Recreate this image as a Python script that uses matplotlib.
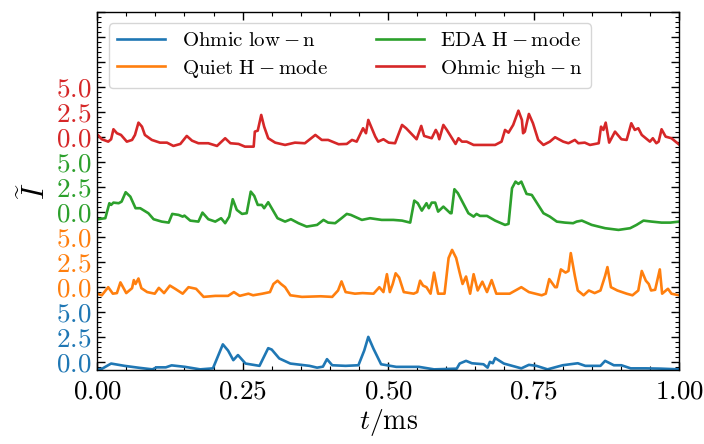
import numpy as np
import matplotlib
matplotlib.use("Agg")
import matplotlib.pyplot as plt
from matplotlib.ticker import MultipleLocator, FixedLocator, FixedFormatter

plt.rcParams['mathtext.fontset'] = 'cm'
plt.rcParams['font.family'] = 'serif'
plt.rcParams['font.serif'] = ['cmr10', 'DejaVu Serif']
plt.rcParams['axes.formatter.use_mathtext'] = True

labels = [r'$\mathrm{Ohmic\ low-n}$', r'$\mathrm{Quiet\ H-mode}$',
          r'$\mathrm{EDA\ H-mode}$', r'$\mathrm{Ohmic\ high-n}$']
colors = ['#1f77b4', '#ff7f0e', '#2ca02c', '#d62728']
offsets = [0.0, 7.5, 15.0, 22.5]

t_low = [0, 0.008, 0.024, 0.047, 0.073, 0.095, 0.102, 0.118, 0.128, 0.151, 0.177, 0.199,
         0.216, 0.225, 0.234, 0.242, 0.255, 0.279, 0.294, 0.3, 0.313, 0.332, 0.365, 0.378,
         0.388, 0.395, 0.404, 0.427, 0.449, 0.459, 0.466, 0.475, 0.488, 0.514, 0.553, 0.579,
         0.618, 0.623, 0.634, 0.644, 0.664, 0.671, 0.675, 0.68, 0.684, 0.699, 0.729, 0.742,
         0.755, 0.774, 0.8, 0.826, 0.839, 0.865, 0.873, 0.888, 0.901, 0.917, 0.943, 0.969, 1.0]
v_low = [-0.75, -0.7, -0.17, -0.4, -0.6, -0.75, -0.55, -0.55, -0.35, -0.5, -0.75, -0.65,
         1.75, 1.13, 0.17, 0.68, -0.17, -0.4, 1.37, 1.23, 0.34, -0.17, -0.4, -0.58,
         -0.48, 0.27, -0.34, -0.4, -0.34, 1.13, 2.5, 1.3, -0.24, -0.5, -0.5, -0.75,
         -0.68, -0.17, 0.1, -0.14, -0.24, -0.58, 0.0, -0.14, 0.38, -0.17, -0.65, -0.3,
         -0.4, -0.75, -0.34, -0.14, -0.4, -0.4, 0.1, -0.34, -0.34, -0.65, -0.65, -0.68, -0.75]

t_quiet = [0, 0.008, 0.019, 0.027, 0.034, 0.040, 0.050, 0.060, 0.063, 0.066, 0.071, 0.076,
           0.086, 0.099, 0.106, 0.115, 0.125, 0.134, 0.147, 0.157, 0.170, 0.183, 0.203, 0.216,
           0.225, 0.235, 0.245, 0.260, 0.268, 0.284, 0.297, 0.303, 0.310, 0.316, 0.323, 0.332,
           0.352, 0.384, 0.404, 0.414, 0.420, 0.427, 0.443, 0.456, 0.475, 0.485, 0.492, 0.498,
           0.503, 0.508, 0.513, 0.519, 0.527, 0.544, 0.550, 0.555, 0.560, 0.566, 0.573, 0.579,
           0.586, 0.597, 0.604, 0.610, 0.617, 0.623, 0.628, 0.634, 0.641, 0.647, 0.654, 0.662,
           0.670, 0.678, 0.686, 0.709, 0.729, 0.742, 0.764, 0.771, 0.777, 0.787, 0.790, 0.797,
           0.805, 0.810, 0.814, 0.821, 0.826, 0.836, 0.845, 0.855, 0.865, 0.873, 0.877, 0.883,
           0.894, 0.910, 0.920, 0.930, 0.936, 0.943, 0.948, 0.952, 0.959, 0.967, 0.971, 0.981,
           0.987, 1.0]
v_quiet = [-0.68, -0.84, -0.03, -0.68, -0.62, 0.45, -0.62, -0.13, 0.68, 0.29, 0.84, -0.13,
           -0.52, -0.68, -0.1, -0.62, 0.13, -0.19, -0.68, -0.03, -0.19, -1.0, -0.9, -0.9,
           -0.9, -0.52, -0.9, -0.68, -0.84, -0.68, -0.52, 0.29, 0.62, 0.29, -0.03, -0.84,
           -1.0, -0.94, -1.0, -0.36, 0.55, -0.52, -0.68, -0.62, -0.68, -0.03, -0.52, 1.27,
           -0.52, 0.29, 1.36, 0.94, -0.52, -0.68, -0.52, 0.62, 0.13, -0.03, -0.68, 1.43,
           -0.68, -0.68, 2.89, 3.7, 2.89, 1.43, 0.29, 1.04, -0.68, 1.27, -0.36, 0.52,
           -0.52, 0.68, -0.68, -0.68, -0.03, -0.52, -0.84, -0.68, 0.78, -0.03, -0.03, 1.75,
           1.43, 1.59, 3.38, 1.1, -0.36, -0.84, -0.36, -0.62, -0.36, 1.1, 1.98, -0.03,
           -0.36, -0.68, -0.84, -0.36, 1.59, 0.62, 0.29, -0.36, -0.29, 1.75, -0.68, -0.19,
           -0.68, -0.84]

t_eda = [0.001, 0.014, 0.021, 0.024, 0.028, 0.037, 0.042, 0.049, 0.057, 0.066, 0.074, 0.088,
         0.097, 0.111, 0.123, 0.129, 0.140, 0.147, 0.150, 0.160, 0.174, 0.181, 0.191, 0.203,
         0.213, 0.220, 0.227, 0.233, 0.240, 0.249, 0.257, 0.264, 0.270, 0.276, 0.283, 0.287,
         0.294, 0.310, 0.323, 0.333, 0.346, 0.360, 0.378, 0.389, 0.397, 0.409, 0.420, 0.429,
         0.436, 0.455, 0.469, 0.489, 0.509, 0.524, 0.538, 0.545, 0.551, 0.558, 0.566, 0.570,
         0.575, 0.581, 0.586, 0.595, 0.607, 0.609, 0.614, 0.620, 0.629, 0.638, 0.647, 0.652,
         0.658, 0.670, 0.684, 0.701, 0.707, 0.713, 0.719, 0.724, 0.729, 0.738, 0.747, 0.767,
         0.778, 0.790, 0.804, 0.818, 0.824, 0.833, 0.850, 0.873, 0.896, 0.916, 0.927, 0.939,
         0.953, 0.970, 0.985, 1.0]
v_eda = [-0.73, -0.63, 0.87, 0.7, 0.93, 0.87, 1.03, 1.97, 1.53, 0.37, 0.37, -0.13,
         -0.73, -0.97, -1.07, -0.2, -0.3, -0.47, -0.37, -0.87, -0.97, -0.07, -0.73, -0.97,
         -0.63, -1.13, -0.47, 1.27, 0.2, -0.2, -0.13, 2.03, 1.6, 0.7, 0.7, 0.37,
         0.97, -0.63, -0.97, -0.73, -1.13, -1.47, -1.3, -0.8, -1.07, -1.13, -0.63, -0.2,
         -0.3, -0.8, -0.63, -0.8, -0.8, -0.87, -1.07, 1.13, 0.87, 0.13, 0.87, 0.37,
         0.93, 0.93, 0.03, 0.53, -0.13, -0.13, 2.27, 1.87, 0.87, -0.13, -0.47, -0.2,
         -0.4, -0.4, -0.87, -1.3, -1.2, 2.37, 3.03, 2.8, 3.03, 1.8, 1.7, -0.13,
         -0.47, -0.97, -1.07, -1.13, -0.97, -0.87, -1.3, -1.63, -1.8, -1.63, -1.3, -0.87,
         -0.97, -1.07, -1.07, -0.97]

t_high = [0.001, 0.008, 0.019, 0.024, 0.028, 0.034, 0.041, 0.051, 0.060, 0.065, 0.071, 0.077,
          0.082, 0.094, 0.108, 0.120, 0.131, 0.143, 0.154, 0.163, 0.174, 0.191, 0.206, 0.220,
          0.229, 0.243, 0.254, 0.269, 0.271, 0.276, 0.282, 0.287, 0.294, 0.306, 0.323, 0.340,
          0.357, 0.375, 0.386, 0.397, 0.415, 0.429, 0.438, 0.446, 0.457, 0.462, 0.466, 0.478,
          0.483, 0.492, 0.501, 0.512, 0.524, 0.531, 0.549, 0.557, 0.562, 0.575, 0.582, 0.585,
          0.588, 0.595, 0.601, 0.616, 0.621, 0.627, 0.635, 0.647, 0.667, 0.684, 0.695, 0.701,
          0.707, 0.715, 0.724, 0.730, 0.732, 0.735, 0.742, 0.749, 0.758, 0.767, 0.778, 0.787,
          0.801, 0.810, 0.821, 0.827, 0.838, 0.847, 0.862, 0.866, 0.870, 0.874, 0.880, 0.890,
          0.901, 0.910, 0.918, 0.924, 0.930, 0.936, 0.950, 0.955, 0.961, 0.965, 0.970, 0.977,
          0.987, 1.0]
v_high = [0.2, -0.23, -0.47, -0.23, 0.77, 0.37, 0.2, -0.47, -0.3, 0.2, 1.43, 1.03,
          0.2, -0.3, -0.57, -0.57, -0.9, -0.7, 0.1, -0.37, -0.63, -0.63, -0.9, -0.13,
          -0.63, -0.7, -0.97, -0.97, 0.53, 0.63, 2.2, 1.03, -0.13, -0.57, -0.8, -0.57,
          -0.63, 0.2, -0.3, -0.3, -0.73, -0.7, -0.3, -0.47, 0.87, 0.37, 1.7, 0.03,
          -0.47, -0.23, -0.57, -0.63, 1.2, 0.87, -0.23, 1.1, 0.1, -0.13, 0.7, 0.37,
          -0.23, 1.2, 0.7, -0.7, -0.13, -0.47, -0.47, -0.8, -0.8, -0.8, -0.47, 0.7,
          0.43, 1.2, 2.63, 1.7, 0.37, 0.53, 2.3, 1.37, -0.3, -0.8, -0.47, -0.03,
          -0.47, -0.63, -0.3, -0.63, -0.57, -0.8, -0.63, 1.03, 0.7, 1.43, -0.57, 0.53,
          -0.23, -0.3, 1.37, 0.7, 0.87, 0.2, -0.47, -0.13, -0.63, -0.47, 0.77, 0.03,
          -0.13, -0.75]

series_t = [t_low, t_quiet, t_eda, t_high]
series_v = [v_low, v_quiet, v_eda, v_high]

ytick_values = ['0.0', '2.5', '5.0']

fig = plt.figure(figsize=(7.04, 4.44), dpi=100)
ax = fig.add_axes([0.138, 0.167, 0.8265, 0.806])

for tt, vv, off, c, lab in zip(series_t, series_v, offsets, colors, labels):
    ax.plot(np.array(tt), np.array(vv) + off, color=c, lw=1.9, label=lab)

ax.set_xlim(0, 1)
ax.set_ylim(-0.8, 35)

ax.set_xticks([0, 0.25, 0.5, 0.75, 1.0])
ax.set_xticklabels([r'$0.00$', r'$0.25$', r'$0.50$', r'$0.75$', r'$1.00$'], fontsize=19.5)
ax.xaxis.set_minor_locator(MultipleLocator(0.05))

yt = np.arange(0, 35.01, 2.5)
ylabels = []
for i in range(len(yt)):
    if i < 12:
        ylabels.append('$' + ytick_values[i % 3] + '$')
    else:
        ylabels.append('')
ax.yaxis.set_major_locator(FixedLocator(yt))
ax.yaxis.set_major_formatter(FixedFormatter(ylabels))
ax.yaxis.set_minor_locator(MultipleLocator(0.5))
for i, lbl in enumerate(ax.get_yticklabels()):
    if i < 12:
        lbl.set_color(colors[i // 3])
    lbl.set_fontsize(19.5)

ax.tick_params(which='both', direction='in', top=True, right=True)
ax.tick_params(which='major', length=6, width=1.0)
ax.tick_params(axis='x', which='major', pad=7)
ax.tick_params(axis='y', which='major', pad=4)
ax.tick_params(which='minor', length=3, width=0.8)
for s in ax.spines.values():
    s.set_linewidth(1.0)

ax.set_xlabel(r'$t/\mathrm{ms}$', fontsize=20, labelpad=3)
ax.set_ylabel(r'$\widetilde{I}$', fontsize=22, labelpad=4)

leg = ax.legend(loc='upper left', ncol=2, fontsize=15, frameon=True,
                borderaxespad=0.55, columnspacing=2.3, handlelength=2.3,
                handletextpad=0.8, labelspacing=0.35)
leg.get_frame().set_edgecolor('#cccccc')

fig.savefig('out.png', dpi=100)
